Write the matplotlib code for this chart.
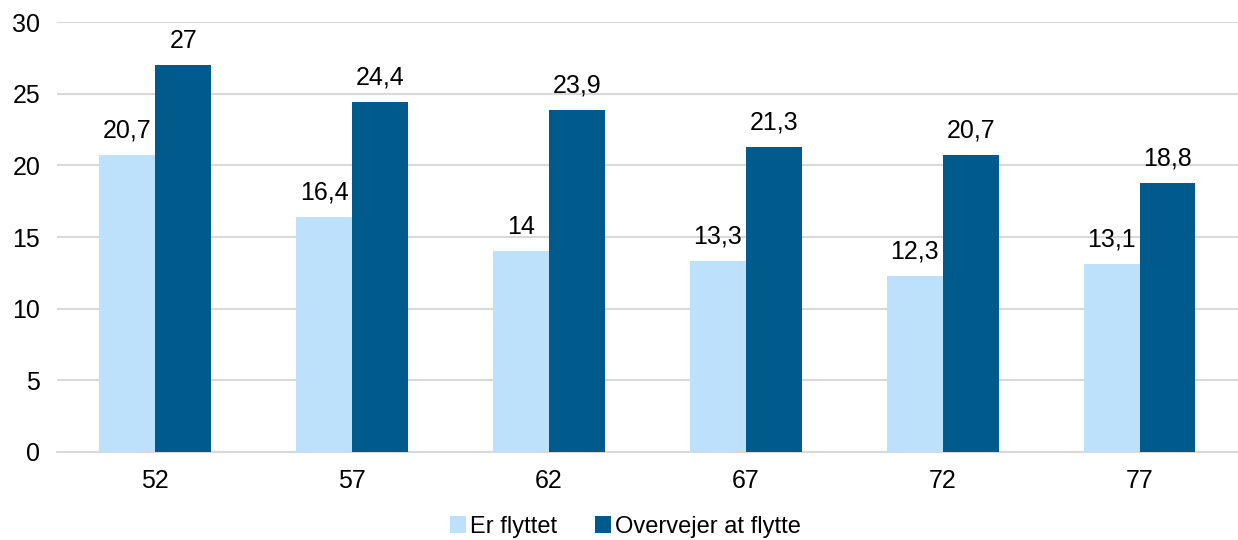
import numpy as np
import matplotlib.pyplot as plt

plt.rcParams['font.family'] = ['Liberation Sans', 'DejaVu Sans']

ages = ['52', '57', '62', '67', '72', '77']
er_flyttet = [20.7, 16.4, 14, 13.3, 12.3, 13.1]
overvejer = [27, 24.4, 23.9, 21.3, 20.7, 18.8]
series_names = ['Er flyttet', 'Overvejer at flytte']

light = '#bde1fb'
dark = '#005b8c'
fs = 18

fig = plt.figure(figsize=(12.38, 5.4), dpi=100)
ax = fig.add_axes([0.046, 0.163, 0.954, 0.796])

x = np.arange(len(ages))
w = 0.284
b1 = ax.bar(x - w / 2, er_flyttet, w, color=light, label=series_names[0], zorder=3)
b2 = ax.bar(x + w / 2, overvejer, w, color=dark, label=series_names[1], zorder=3)


def fmt(v):
    return ('%g' % v).replace('.', ',')


for bars, vals in [(b1, er_flyttet), (b2, overvejer)]:
    for rect, v in zip(bars, vals):
        ax.annotate(fmt(v), (rect.get_x() + rect.get_width() / 2, v),
                    xytext=(0, 9), textcoords='offset points',
                    ha='center', va='bottom', fontsize=fs)

ax.set_xlim(-0.5, 5.5)
ax.set_ylim(0, 30)
ax.set_yticks(range(0, 31, 5))
ax.set_xticks(x)
ax.set_xticklabels(ages)
ax.tick_params(axis='both', length=0, labelsize=fs)
ax.tick_params(axis='x', pad=12)
ax.tick_params(axis='y', pad=12)
ax.grid(axis='y', color='#d9d9d9', linewidth=1.5, zorder=0)
for s in ['top', 'right', 'left']:
    ax.spines[s].set_visible(False)
ax.spines['bottom'].set_color('#d9d9d9')
ax.spines['bottom'].set_linewidth(1.5)

fig.legend(handles=[b1, b2], loc='lower center', bbox_to_anchor=(0.505, -0.035),
           ncol=2, frameon=False, fontsize=17, handlelength=0.7, handleheight=0.7,
           handletextpad=0.15, columnspacing=1.6)

fig.savefig('out.png', dpi=100)
